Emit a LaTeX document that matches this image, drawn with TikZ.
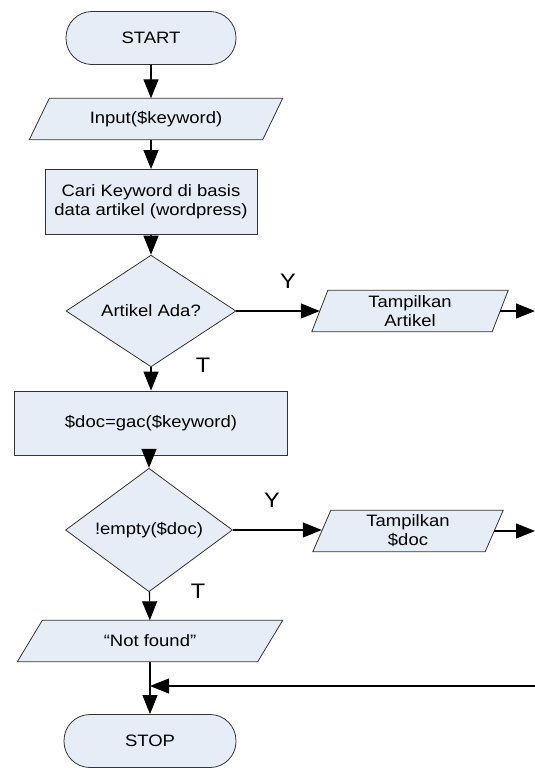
\documentclass[tikz,border=0pt]{standalone}
\usepackage{fontspec}
\setmainfont[FakeStretch=1.12]{Liberation Sans}
\usetikzlibrary{shapes.geometric,arrows.meta,backgrounds}
\definecolor{boxfill}{RGB}{231,237,247}

\begin{document}
\begin{tikzpicture}[x=1pt,y=-1pt,
        every node/.style={font=\fontsize{16.5}{19}\selectfont},
        shapeline/.style={draw=black!80, line width=0.8pt, fill=boxfill},
        terminal/.style={shapeline, rounded corners=26pt, minimum width=170pt, minimum height=53pt},
        process/.style={shapeline, align=center},
        io/.style={align=center, minimum height=41pt, inner sep=0pt},
        decision/.style={shapeline, diamond, minimum width=170pt, minimum height=93pt, inner sep=0pt},
        flow/.style={-{Triangle[length=19pt,width=15pt]}, line width=1.2pt},
        yt/.style={font=\fontsize{21}{24}\selectfont}]
    \useasboundingbox (0,0) rectangle (535,768);

    \node[terminal] (start) at (151,38) {START};
    \node[io, minimum width=233pt] (input) at (156,119) {Input(\$keyword)};
    \node[process, minimum width=212pt, minimum height=65pt] (cari) at (151,202) {Cari Keyword di basis\\data artikel (wordpress)};
    \node[decision] (ada) at (151,311) {Artikel Ada?};
    \node[io, minimum width=180pt] (artikel) at (410,311) {Tampilkan\\Artikel};
    \node[process, minimum width=273pt, minimum height=64pt] (gac) at (151,423) {\$doc=gac(\$keyword)};
    \node[decision, minimum width=167pt] (empty) at (149,530) {!empty(\$doc)};
    \node[io, minimum width=172pt] (tampil) at (408,531) {Tampilkan\\\$doc};
    \node[io, minimum width=240pt] (notfound) at (150,641) {“Not found”};
    \node[terminal, minimum width=172pt] (stop) at (150,741) {STOP};

    \begin{scope}[on background layer]
        \foreach \n/\s in {input/20, artikel/16, tampil/18, notfound/25}
            \draw[shapeline] ([xshift=-\s/2]\n.south west) -- ([xshift=\s/2]\n.north west)
                -- ([xshift=\s/2]\n.north east) -- ([xshift=-\s/2]\n.south east) -- cycle;
    \end{scope}

    \node[yt] (y1) at (288,281) {Y};
    \node[yt] (t1) at (203,365) {T};
    \node[yt] (y2) at (272,500) {Y};
    \node[yt] (t2) at (198,591) {T};

    \coordinate (out1) at (535,311);
    \coordinate (out2) at (535,531);
    \coordinate (back) at (535,686);

    \draw[flow] (start) -- (start |- input.north);
    \draw[flow] (start |- input.south) -- (cari);
    \draw[flow] (cari) -- (ada);
    \draw[flow] (ada.east) -- (artikel.west);
    \draw[flow] (artikel.east) -- (out1);
    \draw[flow] (ada) -- (gac);
    \draw[flow] (gac.south -| empty) -- (empty);
    \draw[flow] (empty.east) -- (tampil.west |- empty.east);
    \draw[flow] (tampil.east) -- (out2);
    \draw[flow] (empty) -- (notfound);
    \draw[flow] (notfound.south -| stop) -- (stop);
    \draw[flow] (back) -- (back -| stop);
\end{tikzpicture}
\end{document}
